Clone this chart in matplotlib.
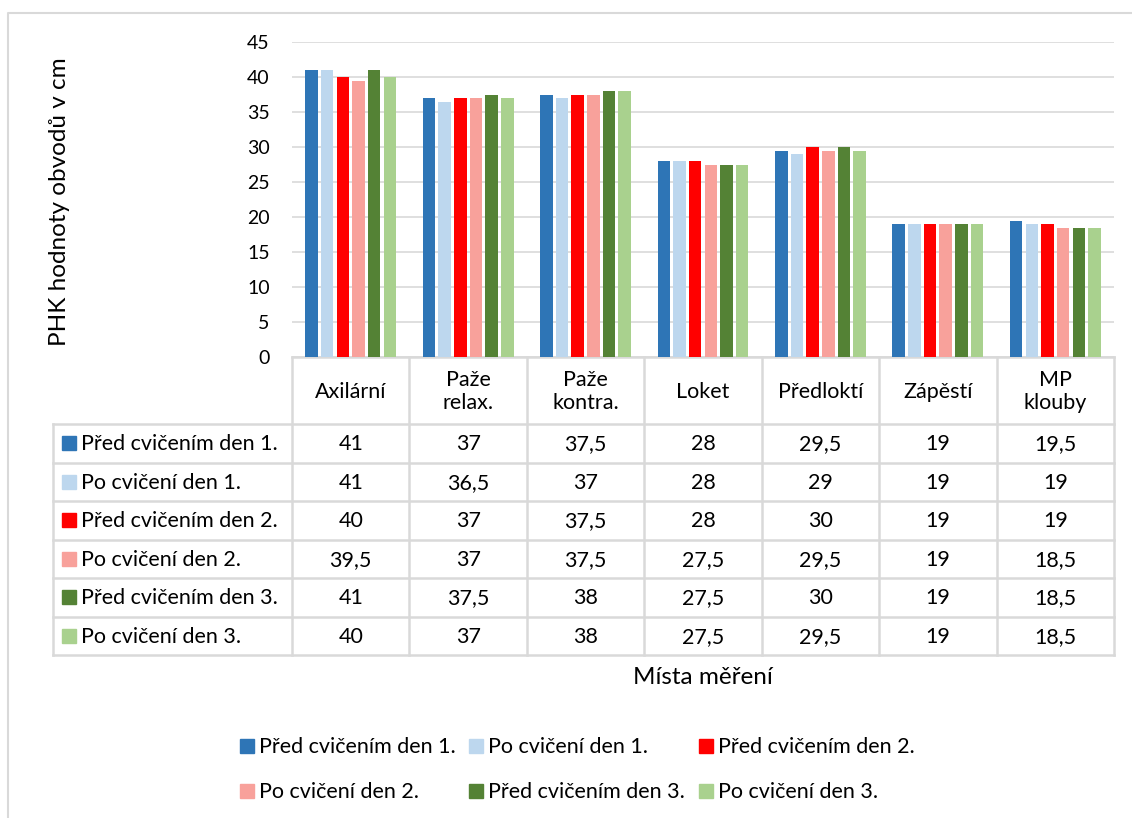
import matplotlib
matplotlib.use("Agg")
import matplotlib.pyplot as plt
from matplotlib.patches import Rectangle
import numpy as np

plt.rcParams['font.family'] = ['Lato', 'DejaVu Sans']

categories = ["Axilární", "Paže\nrelax.", "Paže\nkontra.", "Loket", "Předloktí", "Zápěstí", "MP\nklouby"]
series_names = ["Před cvičením den 1.", "Po cvičení den 1.", "Před cvičením den 2.",
                "Po cvičení den 2.", "Před cvičením den 3.", "Po cvičení den 3."]
pred_den1 = [41, 37, 37.5, 28, 29.5, 19, 19.5]
po_den1 = [41, 36.5, 37, 28, 29, 19, 19]
pred_den2 = [40, 37, 37.5, 28, 30, 19, 19]
po_den2 = [39.5, 37, 37.5, 27.5, 29.5, 19, 18.5]
pred_den3 = [41, 37.5, 38, 27.5, 30, 19, 18.5]
po_den3 = [40, 37, 38, 27.5, 29.5, 19, 18.5]
series_values = [pred_den1, po_den1, pred_den2, po_den2, pred_den3, po_den3]
colors = ["#2E75B6", "#BDD7EE", "#FF0000", "#F8A19B", "#548235", "#A9D18E"]
yticks = [0, 5, 10, 15, 20, 25, 30, 35, 40, 45]

W, H = 1132, 818
fig = plt.figure(figsize=(W / 100, H / 100), dpi=100)

# overlay in pixel coordinates for the frame, data table and legend
ov = fig.add_axes([0, 0, 1, 1])
ov.set_xlim(0, W)
ov.set_ylim(H, 0)
ov.axis("off")

grid_c = "#D9D9D9"
fs = 15.5

# chart frame
ov.plot([8, 8, W + 5], [H + 5, 13, 13], color="#D9D9D9", lw=1.5)

# bar plot area
x0, x1 = 292, 1114
y_top, y_zero = 42, 357
ax = fig.add_axes([x0 / W, (H - y_zero) / H, (x1 - x0) / W, (y_zero - y_top) / H])
n_cat = len(categories)
n_ser = len(series_names)
xs = np.arange(n_cat)
slot = 0.8 / n_ser
for i, (vals, c) in enumerate(zip(series_values, colors)):
    ax.bar(xs - 0.4 + slot * (i + 0.5), vals, width=slot * 0.8, color=c, zorder=3)
ax.set_xlim(-0.5, n_cat - 0.5)
ax.set_ylim(0, 45)
ax.set_yticks(yticks)
ax.set_yticklabels([str(t) for t in yticks], fontsize=14)
ax.tick_params(axis="y", length=0, pad=16)
ax.tick_params(axis="x", length=0, labelbottom=False)
ax.grid(axis="y", color=grid_c, lw=1.2, zorder=0)
for s in ax.spines.values():
    s.set_visible(False)
ax.set_facecolor("none")

# data table
col_w = (x1 - x0) / n_cat
col_edges = [x0 + col_w * k for k in range(n_cat + 1)]
head_top, head_bot = 357, 424
row_h = (655 - head_bot) / n_ser
row_edges = [head_bot + row_h * k for k in range(n_ser + 1)]
tx0 = 53
lw_t = 1.8

# header cells
ov.plot([x0, x1], [head_top, head_top], color=grid_c, lw=lw_t)
for e in col_edges:
    ov.plot([e, e], [head_top, row_edges[-1]], color=grid_c, lw=lw_t)
for j, cat in enumerate(categories):
    ov.text((col_edges[j] + col_edges[j + 1]) / 2, (head_top + head_bot) / 2 + 1, cat,
            ha="center", va="center", fontsize=fs, linespacing=1.2)
# body rows
for r in row_edges:
    ov.plot([tx0, x1], [r, r], color=grid_c, lw=lw_t)
ov.plot([tx0, tx0], [row_edges[0], row_edges[-1]], color=grid_c, lw=lw_t)


def fmt(v):
    return f"{v:g}".replace(".", ",")


for i, (name, vals, c) in enumerate(zip(series_names, series_values, colors)):
    yc = (row_edges[i] + row_edges[i + 1]) / 2
    ov.add_patch(Rectangle((62, yc - 7), 14, 14, color=c))
    ov.text(81, yc + 1, name, ha="left", va="center", fontsize=fs)
    for j, v in enumerate(vals):
        ov.text((col_edges[j] + col_edges[j + 1]) / 2, yc + 1, fmt(v),
                ha="center", va="center", fontsize=fs)

# axis titles
ov.text(60, 202, "PHK hodnoty obvodů v cm", rotation=90, ha="center", va="center", fontsize=17.5)
ov.text(703, 677, "Místa měření", ha="center", va="center", fontsize=17.5)

# legend
legend_pos = [(240, 746), (469, 746), (699, 746), (240, 791), (469, 791), (699, 791)]
for (lx, ly), name, c in zip(legend_pos, series_names, colors):
    ov.add_patch(Rectangle((lx, ly - 7), 14, 14, color=c))
    ov.text(lx + 19, ly + 1, name, ha="left", va="center", fontsize=fs)

fig.savefig("out.png", dpi=100)
